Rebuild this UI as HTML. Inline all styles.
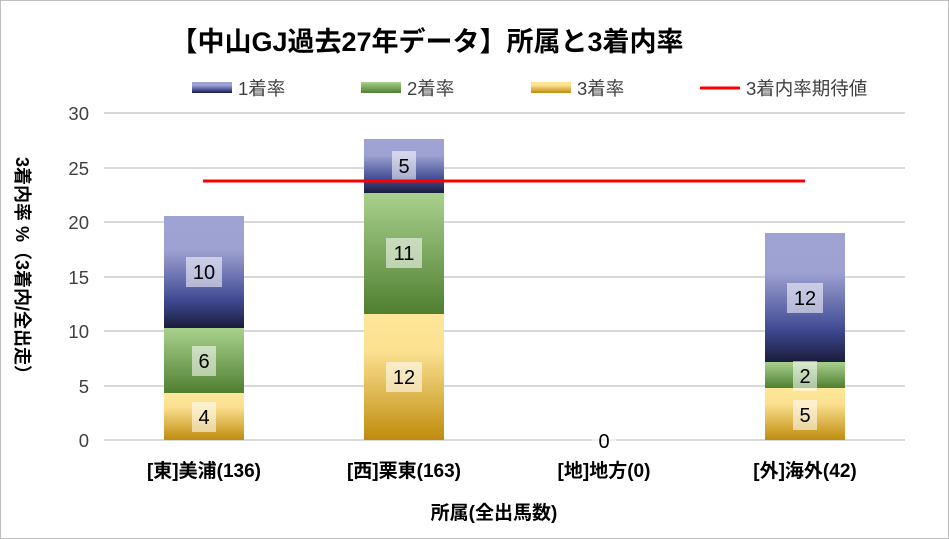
<!DOCTYPE html>
<html><head><meta charset="utf-8"><style>
html,body{margin:0;padding:0;background:#fff}
svg{display:block}
text{font-family:"Liberation Sans","Noto Sans CJK JP",sans-serif}
</style></head><body>
<svg width="949" height="539" viewBox="0 0 949 539" xmlns="http://www.w3.org/2000/svg">
<defs>
<linearGradient id="b" x1="0" y1="0" x2="0" y2="1">
<stop offset="0" stop-color="#9fa3d3"/><stop offset="0.3" stop-color="#9ea2d2"/><stop offset="0.75" stop-color="#3f4a93"/><stop offset="1" stop-color="#1b1c3a"/></linearGradient>
<linearGradient id="g" x1="0" y1="0" x2="0" y2="1">
<stop offset="0" stop-color="#a9d18e"/><stop offset="1" stop-color="#4f7f30"/></linearGradient>
<linearGradient id="y" x1="0" y1="0" x2="0" y2="1">
<stop offset="0" stop-color="#ffe699"/><stop offset="0.3" stop-color="#fbe090"/><stop offset="1" stop-color="#bf8c0c"/></linearGradient>
</defs>
<rect x="0.5" y="0.5" width="948" height="538" fill="#fff" stroke="#bfbfbf"/>
<text x="427" y="51" font-size="27" font-weight="bold" text-anchor="middle" fill="#000">【中山GJ過去27年データ】所属と3着内率</text>
<!-- legend -->
<rect x="192" y="82" width="40" height="11" fill="url(#b)"/><text x="238" y="95" font-size="18.5" fill="#404040">1着率</text>
<rect x="361" y="82" width="40" height="11" fill="url(#g)"/><text x="407" y="95" font-size="18.5" fill="#404040">2着率</text>
<rect x="531" y="82" width="40" height="11" fill="url(#y)"/><text x="577" y="95" font-size="18.5" fill="#404040">3着率</text>
<line x1="700" y1="88" x2="740" y2="88" stroke="#ff0000" stroke-width="3"/><text x="746" y="95" font-size="18.5" fill="#404040">3着内率期待値</text>
<!-- grid -->
<g stroke="#d9d9d9" stroke-width="2">
<line x1="104" y1="113" x2="905" y2="113"/><line x1="104" y1="168" x2="905" y2="168"/><line x1="104" y1="222" x2="905" y2="222"/><line x1="104" y1="277" x2="905" y2="277"/><line x1="104" y1="331" x2="905" y2="331"/><line x1="104" y1="386" x2="905" y2="386"/><line x1="104" y1="440" x2="905" y2="440"/>
</g>
<g font-size="18.5" fill="#404040" text-anchor="end">
<text x="89" y="120">30</text><text x="89" y="175">25</text><text x="89" y="229">20</text><text x="89" y="284">15</text><text x="89" y="338">10</text><text x="89" y="393">5</text><text x="89" y="447">0</text>
</g>
<!-- bars -->
<rect x="164" y="216" width="80" height="112" fill="url(#b)"/>
<rect x="164" y="328" width="80" height="65" fill="url(#g)"/>
<rect x="164" y="393" width="80" height="47" fill="url(#y)"/>
<rect x="364" y="139" width="80" height="54" fill="url(#b)"/>
<rect x="364" y="193" width="80" height="121" fill="url(#g)"/>
<rect x="364" y="314" width="80" height="126" fill="url(#y)"/>
<rect x="765" y="233" width="80" height="129" fill="url(#b)"/>
<rect x="765" y="362" width="80" height="26" fill="url(#g)"/>
<rect x="765" y="388" width="80" height="52" fill="url(#y)"/>
<!-- labels -->
<g fill="rgba(255,255,255,0.55)">
<rect x="186" y="257" width="36" height="30"/><rect x="192" y="346" width="24" height="30"/><rect x="192" y="402" width="24" height="30"/>
<rect x="392" y="151" width="24" height="30"/><rect x="386" y="238" width="36" height="30"/><rect x="386" y="362" width="36" height="30"/>
<rect x="592" y="426" width="24" height="30"/>
<rect x="787" y="283" width="36" height="30"/><rect x="793" y="361" width="24" height="30"/><rect x="793" y="400" width="24" height="30"/>
</g>
<g font-size="20" fill="#000" text-anchor="middle">
<text x="204" y="279">10</text><text x="204" y="368">6</text><text x="204" y="424">4</text>
<text x="404" y="173">5</text><text x="404" y="260">11</text><text x="404" y="384">12</text>
<text x="604" y="448">0</text>
<text x="805" y="305">12</text><text x="805" y="383">2</text><text x="805" y="422">5</text>
</g>
<line x1="203" y1="181" x2="805" y2="181" stroke="#ff0000" stroke-width="3"/>
<!-- x labels -->
<g font-size="19" font-weight="bold" fill="#000" text-anchor="middle">
<text x="204" y="477">[東]美浦(136)</text><text x="404" y="477">[西]栗東(163)</text><text x="604" y="477">[地]地方(0)</text><text x="805" y="477">[外]海外(42)</text>
</g>
<text x="494" y="519" font-size="19" font-weight="bold" text-anchor="middle" fill="#000">所属(全出馬数)</text>
<text transform="translate(16,270) rotate(90)" font-size="18" font-weight="bold" text-anchor="middle" fill="#000">3着内率 %（3着内/全出走）</text>
</svg>
</body></html>
